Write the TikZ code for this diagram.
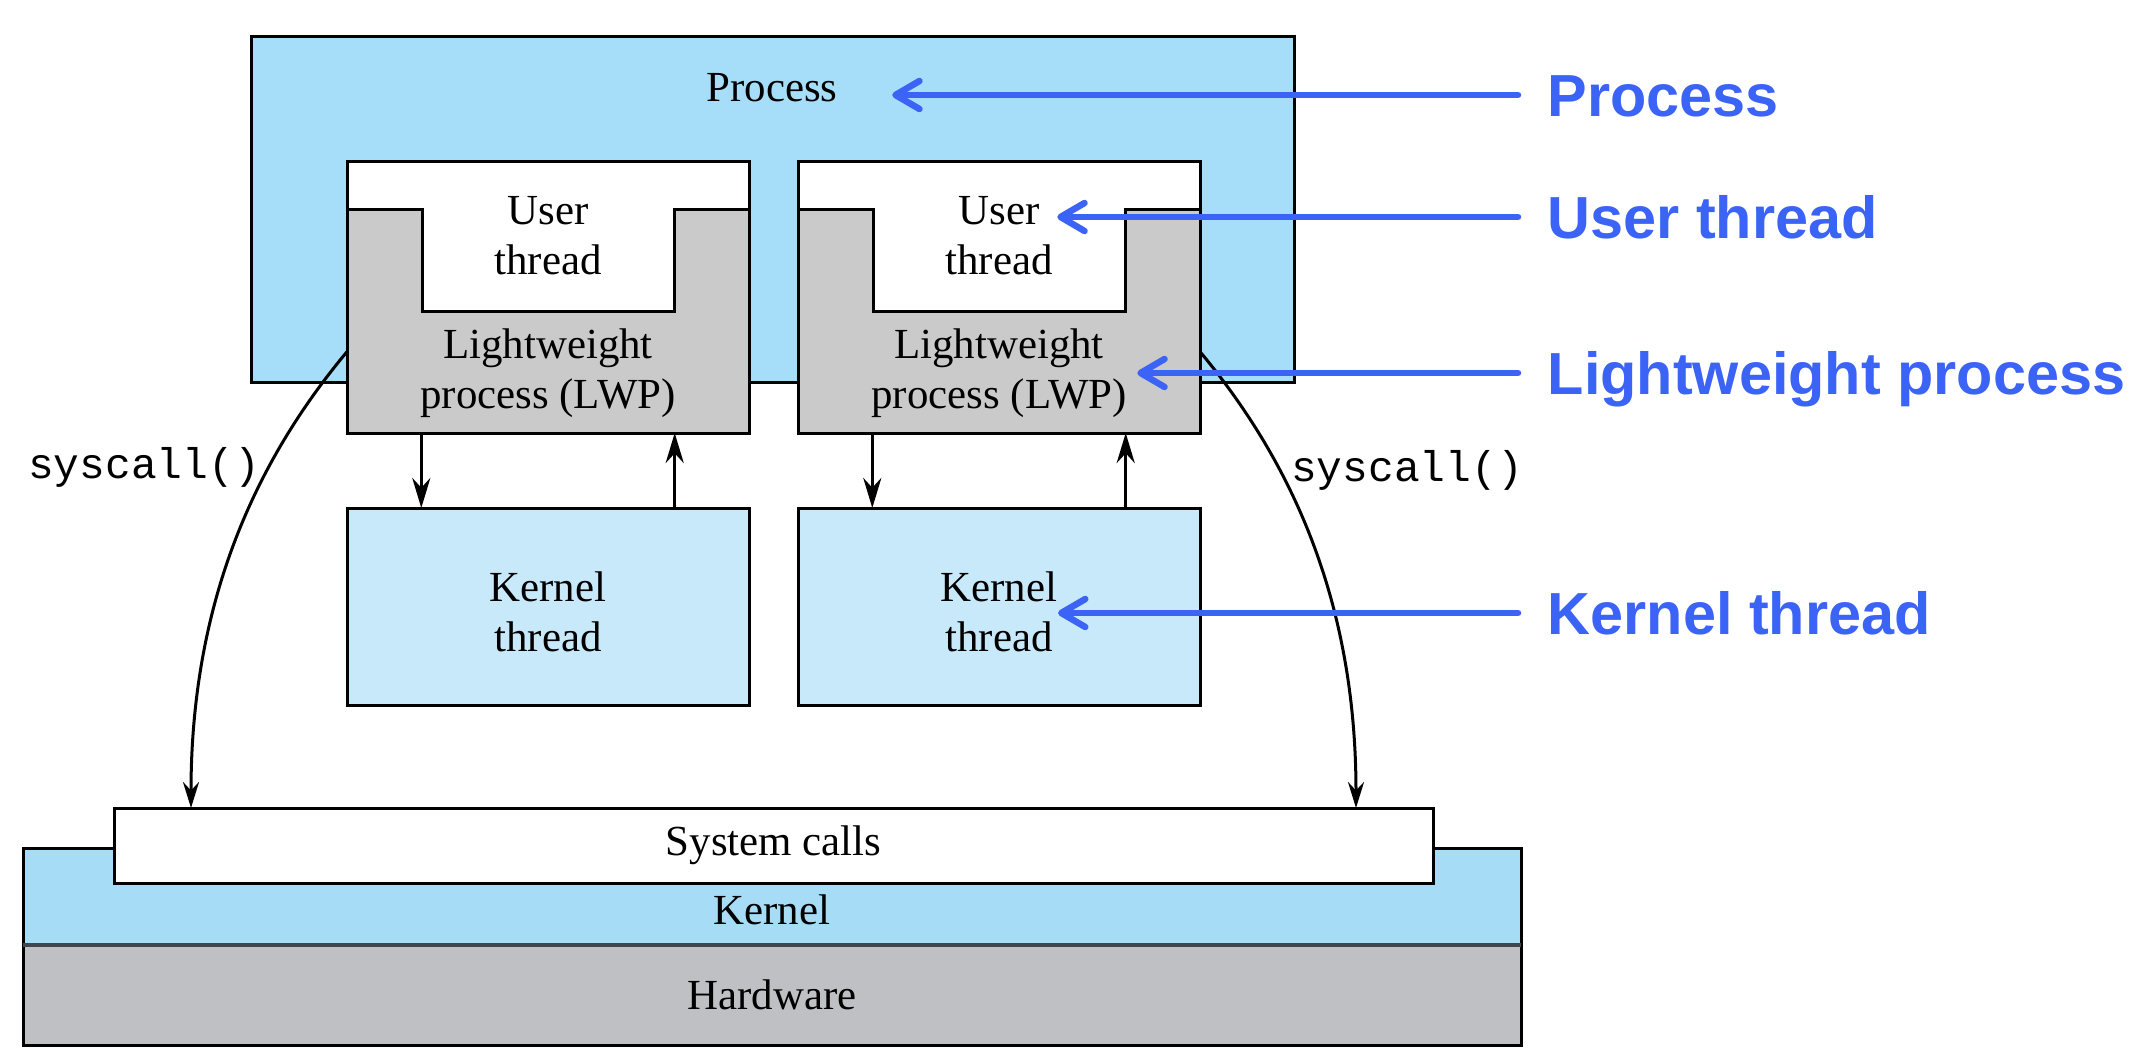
\documentclass[tikz,border=0pt]{standalone}
\usepackage{fontspec}
\setmainfont{Liberation Serif}
\setsansfont{Liberation Sans}
\setmonofont{Liberation Mono}
\usepackage{tikz}
\usetikzlibrary{calc}
\usetikzlibrary{arrows.meta}

\definecolor{procblue}{RGB}{166,221,248}
\definecolor{ktblue}{RGB}{200,233,249}
\definecolor{kernblue}{RGB}{166,220,246}
\definecolor{lwpgray}{RGB}{202,202,203}
\definecolor{hwgray}{RGB}{191,192,195}
\definecolor{lblblue}{RGB}{59,99,245}

\tikzset{
  box/.style={draw=black, line width=0.030cm, rectangle, inner sep=0pt, outer sep=0pt},
  txt/.style={inner sep=0pt, align=center, font=\fontsize{12.2}{14.2}\selectfont},
  calltxt/.style={inner sep=0pt, font=\ttfamily\fontsize{12.2}{14.2}\selectfont},
  lbl/.style={inner sep=0pt, anchor=west, text=lblblue, text height=0.43cm, text depth=0pt,
              font=\sffamily\bfseries\fontsize{16.9}{20}\selectfont},
  lblarrow/.style={draw=lblblue, line width=0.065cm, line cap=round,
                   -{Straight Barb[length=0.24cm,width=0.28cm,round]}},
  karrow/.style={line width=0.035cm, -{Stealth[length=0.30cm,width=0.18cm]}},
  callarrow/.style={line width=0.030cm, -{Stealth[length=0.26cm,width=0.16cm]}},
}

\begin{document}
\begin{tikzpicture}
                    \useasboundingbox (0,0) rectangle (21.300000,-10.540000);

                    % Drawing process box
                    \node[box, fill=procblue, minimum width=10.430000cm, minimum height=3.450000cm] (proc) at (7.725000,-2.095000) {};
                    \node[txt] (ptxt) at (7.720000,-0.880000) {Process};

                    % Drawing left thread box
                    \node[box, fill=lwpgray, minimum width=4.020000cm, minimum height=2.710000cm] (lwpL) at (5.480000,-2.975000) {};
                    \draw[line width=0.030cm, fill=white] (3.470000,-1.620000) -- (7.490000,-1.620000) -- (7.490000,-2.100000) -- (6.740000,-2.100000)
                          -- (6.740000,-3.120000) -- (4.220000,-3.120000) -- (4.220000,-2.100000) -- (3.470000,-2.100000) -- cycle;
                    \node[minimum width=2.520000cm, minimum height=1.500000cm, inner sep=0pt] (utL) at (5.480000,-2.370000) {};
                    \node[txt] (utxtL) at (5.480000,-2.360000) {User\\thread};
                    \node[txt] (lwptxtL) at (5.480000,-3.730000) {Lightweight\\process (LWP)};

                    % Drawing right thread box
                    \node[box, fill=lwpgray, minimum width=4.020000cm, minimum height=2.710000cm] (lwpR) at (9.990000,-2.975000) {};
                    \draw[line width=0.030cm, fill=white] (7.980000,-1.620000) -- (12.000000,-1.620000) -- (12.000000,-2.100000) -- (11.250000,-2.100000)
                          -- (11.250000,-3.120000) -- (8.730000,-3.120000) -- (8.730000,-2.100000) -- (7.980000,-2.100000) -- cycle;
                    \node[minimum width=2.520000cm, minimum height=1.500000cm, inner sep=0pt] (utR) at (9.990000,-2.370000) {};
                    \node[txt] (utxtR) at (9.990000,-2.360000) {User\\thread};
                    \node[txt] (lwptxtR) at (9.990000,-3.730000) {Lightweight\\process (LWP)};

                    % Drawing kernel thread boxes
                    \node[box, fill=ktblue, minimum width=4.020000cm, minimum height=1.970000cm] (ktL) at (5.480000,-6.065000) {};
                    \node[txt] (kttxtL) at (5.480000,-6.120000) {Kernel\\thread};
                    \node[box, fill=ktblue, minimum width=4.020000cm, minimum height=1.970000cm] (ktR) at (9.990000,-6.065000) {};
                    \node[txt] (kttxtR) at (9.990000,-6.120000) {Kernel\\thread};

                    % Drawing kernel, hardware and system calls
                    \node[box, fill=kernblue, minimum width=14.980000cm, minimum height=0.970000cm] (kern) at (7.720000,-8.965000) {};
                    \node[txt] (kerntxt) at (7.720000,-9.100000) {Kernel};
                    \node[box, txt, fill=hwgray, minimum width=14.980000cm, minimum height=1.000000cm] (hw) at (7.720000,-9.950000) {Hardware};
                    \draw[line width=0.045cm, black!80!cyan] (kern.south west) -- (kern.south east);
                    \node[box, txt, fill=white, minimum width=13.190000cm, minimum height=0.750000cm] (sysc) at (7.735000,-8.455000) {System calls};

                    % Drawing arrows between LWP and kernel thread
                    \draw[karrow] (utL.west |- lwpL.south) -- (utL.west |- ktL.north);
                    \draw[karrow] (utL.east |- ktL.north) -- (utL.east |- lwpL.south);
                    \draw[karrow] (utR.west |- lwpR.south) -- (utR.west |- ktR.north);
                    \draw[karrow] (utR.east |- ktR.north) -- (utR.east |- lwpR.south);

                    % Drawing syscall() arcs
                    \coordinate (callL) at ($(lwpL.north west)!0.70!(lwpL.south west)$);
                    \coordinate (callLend) at ($(sysc.north west)+(0.770000,0)$);
                    \coordinate (callR) at ($(lwpR.north east)!0.70!(lwpR.south east)$);
                    \coordinate (callRend) at ($(sysc.north east)+(-0.770000,0)$);
                    \draw[callarrow] (callL) .. controls +(-0.960000,-1.150000) and +(0,2.000000) .. (callLend);
                    \draw[callarrow] (callR) .. controls +(0.960000,-1.150000) and +(0,2.000000) .. (callRend);
                    \node[calltxt] (calltxtL) at (1.440000,-4.670000) {syscall()};
                    \node[calltxt] (calltxtR) at (14.070000,-4.700000) {syscall()};

                    % Marking parts by blue labels
                    \node[lbl] (lblP) at (15.470000,-0.950000) {Process};
                    \node[lbl] (lblU) at (15.470000,-2.170000) {User thread};
                    \node[lbl] (lblL) at (15.470000,-3.730000) {Lightweight process};
                    \node[lbl] (lblK) at (15.470000,-6.130000) {Kernel thread};
                    \draw[lblarrow] ($(lblP.west)+(-0.290000,0)$) -- ($(ptxt.east |- lblP.west)+(0.540000,0)$);
                    \draw[lblarrow] ($(lblU.west)+(-0.290000,0)$) -- ($(utxtR.east |- lblU.west)+(0.040000,0)$);
                    \draw[lblarrow] ($(lblL.west)+(-0.290000,0)$) -- ($(lwptxtR.east |- lblL.west)+(0.100000,0)$);
                    \draw[lblarrow] ($(lblK.west)+(-0.290000,0)$) -- ($(kttxtR.east |- lblK.west)+(0.000000,0)$);
\end{tikzpicture}
\end{document}
